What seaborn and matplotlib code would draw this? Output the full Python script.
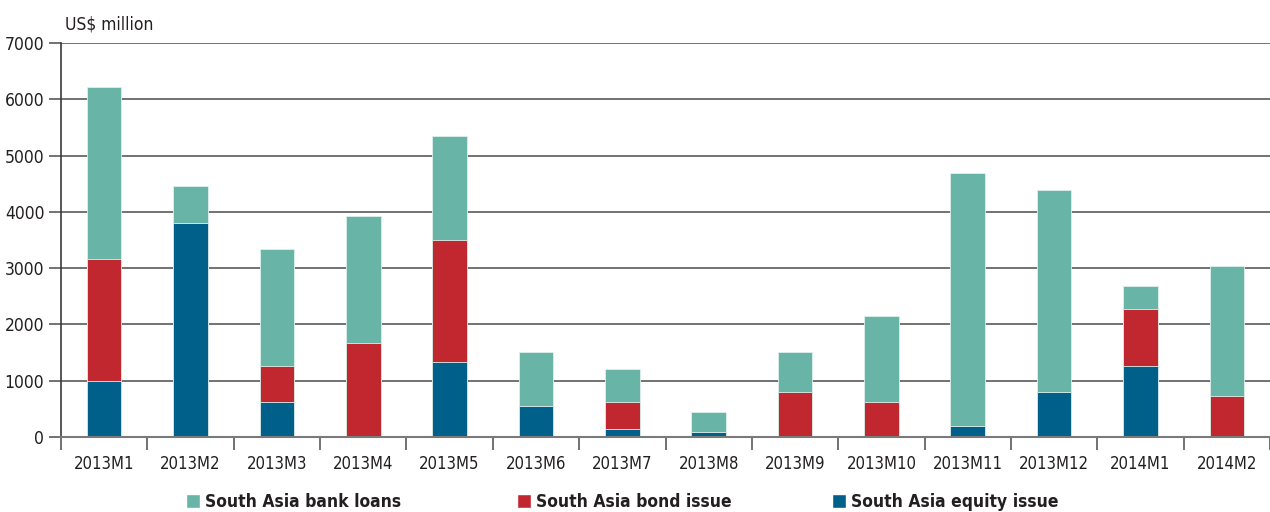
import matplotlib
matplotlib.use("Agg")
import matplotlib.pyplot as plt
from matplotlib.patches import Patch
import seaborn as sns
import pandas as pd
import numpy as np

categories = ["2013M1", "2013M2", "2013M3", "2013M4", "2013M5", "2013M6", "2013M7",
              "2013M8", "2013M9", "2013M10", "2013M11", "2013M12", "2014M1", "2014M2"]
equity = [1000, 3800, 625, 25, 1325, 550, 140, 90, 25, 25, 195, 800, 1270, 25]
bond = [2160, 0, 640, 1650, 2180, 0, 480, 0, 775, 595, 0, 0, 1000, 705]
loans = [3065, 655, 2070, 2245, 1835, 960, 590, 355, 705, 1525, 4490, 3590, 420, 2305]
yticks = [0, 1000, 2000, 3000, 4000, 5000, 6000, 7000]
series_labels = ["South Asia bank loans", "South Asia bond issue", "South Asia equity issue"]

c_loans = "#68B4A6"
c_bond = "#C1272F"
c_equity = "#00608A"

sns.set_theme(style="white")
plt.rcParams["font.family"] = ["DejaVu Sans"]
plt.rcParams["font.stretch"] = "condensed"

df = pd.DataFrame({"cat": categories, "equity": equity, "bond": bond, "loans": loans})
df["lvl_eq"] = df["equity"]
df["lvl_bond"] = df["equity"] + df["bond"]
df["lvl_total"] = df["lvl_bond"] + df["loans"]

fig = plt.figure(figsize=(12.7, 5.12), dpi=100)
ax = fig.add_axes([61 / 1270, 75 / 512, 1 - 61 / 1270, (437 - 43) / 512])

for col, color in [("lvl_total", c_loans), ("lvl_bond", c_bond), ("lvl_eq", c_equity)]:
    sns.barplot(data=df, x="cat", y=col, color=color, width=0.4, saturation=1,
                edgecolor="#dff0ec", linewidth=0.6, ax=ax, zorder=3)

fs = 12.5
ax.set_xlim(-0.5, len(categories) - 0.5)
ax.set_ylim(0, 7000)
ax.set_yticks(yticks)
ax.set_yticklabels([str(v) for v in yticks], fontsize=fs, color="#231f20")
ax.set_ylabel("")
ax.set_xlabel("")

for v in yticks[1:]:
    ax.axhline(v, color="#5a5a5a", linewidth=1.2, zorder=1)

ax.tick_params(axis="y", direction="out", length=9, width=1.2, color="#5a5a5a", pad=3, left=True)
ax.set_xticks(range(len(categories)))
ax.set_xticklabels(categories, fontsize=12, color="#231f20")
ax.set_xticks(np.arange(-0.5, len(categories) - 0.4, 1.0), minor=True)
ax.tick_params(axis="x", which="major", length=0, pad=13)
ax.tick_params(axis="x", which="minor", direction="out", length=9, width=1.2, color="#5a5a5a", bottom=True)

for s in ["top", "right"]:
    ax.spines[s].set_visible(False)
ax.spines["left"].set_color("#3a3a3a")
ax.spines["left"].set_linewidth(1.2)
ax.spines["bottom"].set_color("#7a7a7a")
ax.spines["bottom"].set_linewidth(1.5)
ax.spines["bottom"].set_zorder(4)

fig.text(65 / 1270, 1 - 25 / 512, "US$ million", fontsize=fs, color="#231f20",
         ha="left", va="center")

colors = [c_loans, c_bond, c_equity]
x_starts = [186, 517, 832]
for lab, col, xs in zip(series_labels, colors, x_starts):
    leg = fig.legend([Patch(facecolor=col)], [lab], loc="center left",
                     bbox_to_anchor=(xs / 1270, 1 - 502 / 512), frameon=False,
                     prop={"weight": "bold", "size": 12.5}, handlelength=0.8, handleheight=0.8,
                     handletextpad=0.3, borderpad=0, borderaxespad=0)
    for t in leg.get_texts():
        t.set_color("#231f20")

fig.savefig("out.png", dpi=100)
